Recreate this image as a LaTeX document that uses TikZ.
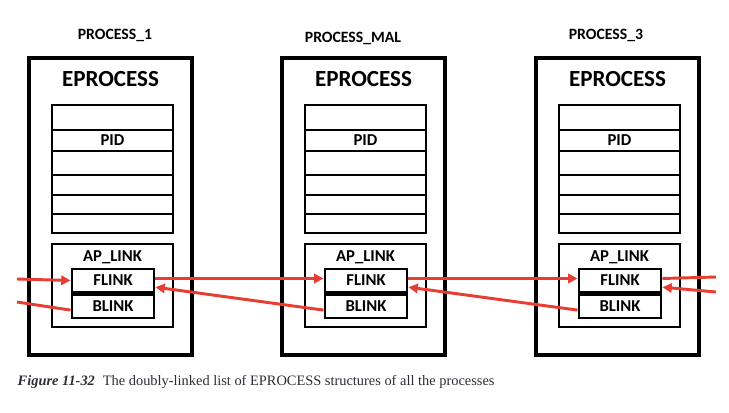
\documentclass[tikz,border=0pt]{standalone}
\usepackage{fontspec}
\setmainfont{Carlito}
\newfontfamily\capfont{Liberation Serif}
\usetikzlibrary{arrows.meta,positioning}
\definecolor{linkred}{RGB}{232,62,50}
\definecolor{capgray}{RGB}{45,45,55}

\begin{document}
\begin{tikzpicture}[x=0.75pt,y=-0.75pt,
    outerbox/.style={draw,line width=2pt,inner sep=0pt},
    fieldbox/.style={draw,line width=1.7pt,inner sep=0pt,minimum width=62pt,minimum height=17.5pt,font=\fontsize{12.5}{14}\selectfont\bfseries},
    link/.style={draw=linkred,line width=2.2pt},
    linkarrow/.style={link,-{Triangle[length=7pt,width=7pt]}}]
  \useasboundingbox (0,0) rectangle (729,412);
  \foreach \i/\x/\tx/\ty/\title in {1/29/115/35/PROCESS\_1,2/282/353/38/PROCESS\_MAL,3/536/606/35/PROCESS\_3}{
    % outer EPROCESS structure
    \node[font=\fontsize{11.8}{13}\selectfont\bfseries] (title\i) at (\tx,\ty) {\title};
    \draw[line width=2.4pt] (\x,58) rectangle (\x+163,355);
    \node[font=\fontsize{17.3}{19}\selectfont\bfseries] (ep\i) at (\x+81.5,79) {EPROCESS};
    % field table
    \draw[line width=1.8pt] (\x+23,105) rectangle (\x+144,233);
    \foreach \r in {130,151,175,195,214}
      \draw[line width=1.8pt] (\x+23,\r) -- (\x+144,\r);
    \node[font=\fontsize{12.5}{14}\selectfont\bfseries] (pid\i) at (\x+83.5,140.5) {PID};
    % AP_LINK
    \draw[line width=1.8pt] (\x+23,244) rectangle (\x+144,327);
    \node[font=\fontsize{12.5}{14}\selectfont\bfseries] (ap\i) at (\x+83.5,257) {AP\_LINK};
    \node[fieldbox] (fl\i) at (\x+84,280.5) {FLINK};
    \node[fieldbox,below=0pt of fl\i] (bl\i) {BLINK};
  }
  \coordinate (inF) at (17,279);
  \coordinate (inB) at (17,302);
  \coordinate (outF) at (716,277);
  \coordinate (outB) at (716,292);
  % forward links
  \draw[linkarrow] (inF) -- (fl1.west);
  \draw[linkarrow] ([yshift=1.5pt]fl1.east) -- ([yshift=1.5pt]fl2.west);
  \draw[linkarrow] ([yshift=1.5pt]fl2.east) -- ([yshift=1.5pt]fl3.west);
  \draw[link] ([yshift=1.5pt]fl3.east) -- (outF);
  % backward links
  \draw[link] (inB) -- ([yshift=-3pt]bl1.west);
  \draw[linkarrow] ([yshift=-3pt]bl2.west) -- ([yshift=-5pt]fl1.east);
  \draw[linkarrow] ([yshift=-3pt]bl3.west) -- ([yshift=-5pt]fl2.east);
  \draw[linkarrow] (outB) -- ([yshift=-5pt]fl3.east);
  % caption
  \node[anchor=west,text=capgray,font=\capfont\fontsize{10.8}{12}\selectfont] (cap) at (13,382)
    {\textbf{\textit{Figure 11-32}}\hspace{6pt}The doubly-linked list of EPROCESS structures of all the processes};
\end{tikzpicture}
\end{document}
